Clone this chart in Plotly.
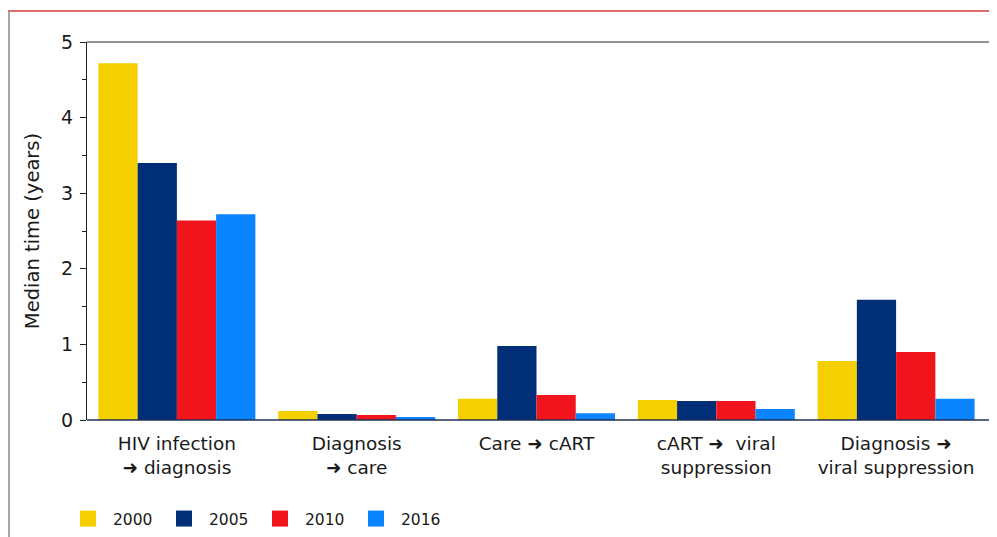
import plotly.graph_objects as go

categories = ["HIV infection<br>➜ diagnosis", "Diagnosis<br>➜ care", "Care ➜ cART",
              "cART ➜  viral<br>suppression", "Diagnosis ➜<br>viral suppression"]
years = ["2000", "2005", "2010", "2016"]
v2000 = [4.72, 0.12, 0.28, 0.265, 0.78]
v2005 = [3.40, 0.08, 0.98, 0.25, 1.59]
v2010 = [2.64, 0.065, 0.33, 0.25, 0.90]
v2016 = [2.72, 0.04, 0.09, 0.145, 0.28]
colors = ["#F5CF00", "#002F77", "#F2141D", "#0A84FF"]

fig = go.Figure()
for name, vals, c in zip(years, [v2000, v2005, v2010, v2016], colors):
    fig.add_trace(go.Bar(x=categories, y=vals, name=name, marker_color=c,
                         marker_line_width=0, showlegend=False))
for name, c in zip(years, colors):
    fig.add_trace(go.Scatter(x=[None], y=[None], mode="markers", name=name,
                             marker=dict(symbol="square", size=18, color=c)))

# the page body adds an 8px offset; figure coords = window coords - 8
OFF = 8
W, H = 997 - OFF, 537 - OFF
ml, mt = 87 - OFF, 42 - OFF
mr = W - (986 - OFF)
mb = H - (420 - OFF)
pw, ph = W - ml - mr, H - mt - mb
px = lambda x: (x - OFF - ml) / pw
py = lambda y: (H - mb - (y - OFF)) / ph

fig.update_layout(
    width=W, height=H,
    margin=dict(l=ml, r=mr, t=mt, b=mb, autoexpand=False),
    paper_bgcolor="white", plot_bgcolor="white",
    barmode="group", bargap=0.127, bargroupgap=0,
    font=dict(family="Verdana, DejaVu Sans, sans-serif", color="#1a1a1a"),
    showlegend=True,
    legend=dict(orientation="h", xref="container", yref="container",
                x=(63 - OFF) / W, y=(H - (519 - OFF)) / H, xanchor="left", yanchor="middle",
                font=dict(size=15.5), entrywidth=41, entrywidthmode="pixels",
                itemsizing="trace", traceorder="normal", itemwidth=40),
    xaxis=dict(showline=False, tickfont=dict(size=18.5), ticks="", showgrid=False,
               automargin=False, ticklabelstandoff=10),
    yaxis=dict(range=[0, 5], showline=True, linecolor="#222", linewidth=1,
               mirror=False, tickvals=[0, 1, 2, 3, 4, 5], ticks="outside", ticklen=6,
               tickcolor="#222", tickfont=dict(size=19), showgrid=False, zeroline=False,
               ticklabelstandoff=3, automargin=False,
               minor=dict(tickvals=[0.5, 1.5, 2.5, 3.5, 4.5], ticks="outside",
                          ticklen=4, tickcolor="#222"),
               title=dict(text="Median time (years)", font=dict(size=19.5), standoff=16)),
    shapes=[
        dict(type="line", xref="paper", yref="paper", x0=0, x1=px(992), y0=1, y1=1,
             line=dict(color="#222", width=1)),
        dict(type="line", xref="paper", yref="paper", x0=px(992), x1=px(992), y0=0, y1=1,
             line=dict(color="#222", width=1)),
        dict(type="line", xref="paper", yref="paper", x0=0, x1=px(992), y0=0, y1=0,
             line=dict(color="#1f2f55", width=1.5)),
        dict(type="line", xref="paper", yref="paper", x0=px(4), x1=px(1000), y0=py(11), y1=py(11),
             line=dict(color="#d23a3a", width=1.5)),
        dict(type="line", xref="paper", yref="paper", x0=px(9), x1=px(9), y0=py(11), y1=py(540),
             line=dict(color="#888", width=1.5)),
    ],
)
fig.write_html("out.html")
